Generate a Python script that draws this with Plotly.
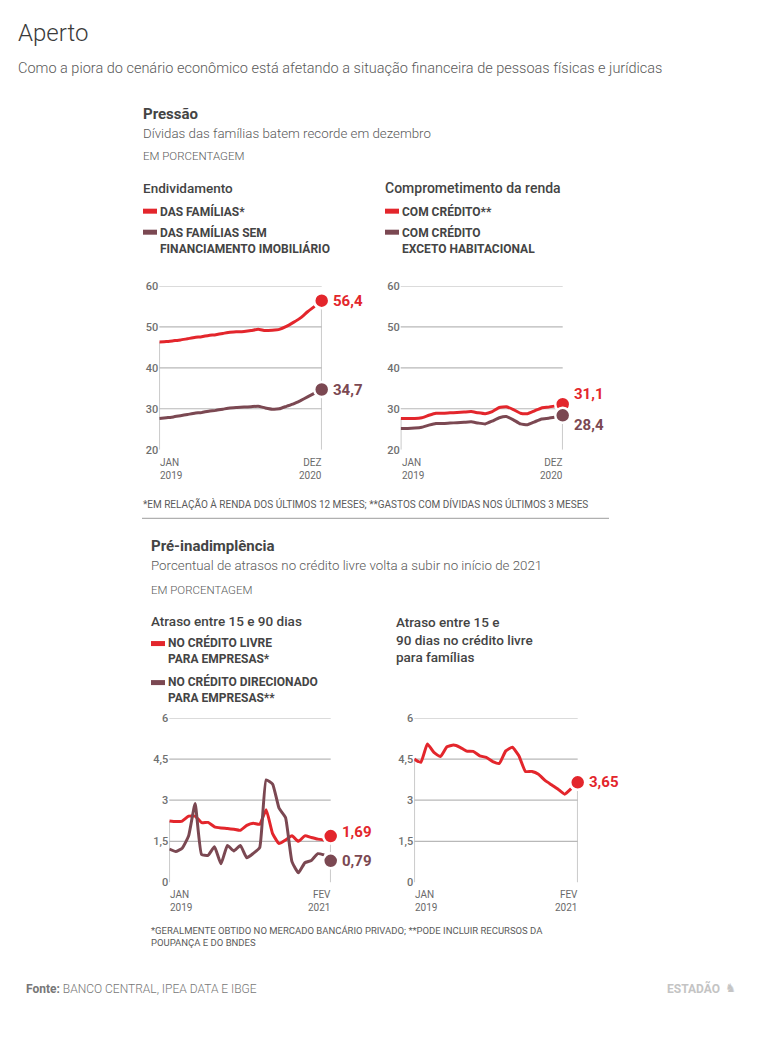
import plotly.graph_objects as go

# a foto da pagina desloca a figura: compensar (8px de margem em x, escala leve em y)
W, H = 750, 1038
OFF_X = 8
OFF_Y, SC_Y = 14.0, 0.9866
RED = "#e3262c"
BROWN = "#7b4852"
GRID = "#b8b8b8"
TXT = "#444444"
SOFT = "#5a5a5a"
FONT = "Roboto"

# --- dados ---
meses_2019_2020 = list(range(24))   # jan/2019 .. dez/2020
meses_2019_2021 = list(range(26))   # jan/2019 .. fev/2021

# endividamento
familias = [46.3, 46.4, 46.6, 46.8, 47.1, 47.4, 47.6, 47.9, 48.1, 48.4, 48.7, 48.8,
            48.9, 49.1, 49.4, 49.1, 49.2, 49.4, 50.1, 51.1, 52.2, 53.7, 55.0, 56.4]
familias_sem_imob = [27.6, 27.8, 28.0, 28.3, 28.6, 28.9, 29.1, 29.4, 29.6, 29.9, 30.2, 30.3,
                     30.4, 30.5, 30.6, 30.2, 29.9, 30.0, 30.6, 31.2, 32.0, 32.9, 33.8, 34.7]
# comprometimento da renda
com_credito = [27.6, 27.6, 27.6, 27.8, 28.4, 28.9, 28.9, 29.0, 29.1, 29.2, 29.3, 29.0,
               28.8, 29.3, 30.3, 30.5, 29.8, 28.9, 28.8, 29.5, 30.2, 30.4, 30.7, 31.1]
com_credito_exc_hab = [25.2, 25.2, 25.3, 25.5, 26.0, 26.4, 26.4, 26.5, 26.6, 26.7, 26.8, 26.5,
                       26.3, 27.0, 27.8, 28.1, 27.3, 26.3, 26.1, 26.8, 27.5, 27.7, 28.0, 28.4]
# pre-inadimplencia
livre_empresas = [2.24, 2.22, 2.24, 2.42, 2.42, 2.18, 2.19, 2.03, 1.99, 1.97, 1.94, 1.90, 2.08,
                  2.16, 2.12, 2.65, 1.78, 1.42, 1.55, 1.70, 1.50, 1.70, 1.64, 1.58, 1.55, 1.69]
direcionado_empresas = [1.22, 1.13, 1.25, 1.70, 2.88, 1.02, 0.99, 1.30, 0.68, 1.35, 1.15, 1.35, 0.90,
                        1.06, 1.27, 3.74, 3.59, 2.71, 2.37, 0.76, 0.35, 0.72, 0.80, 1.05, 1.00, 0.79]
livre_familias = [4.50, 4.38, 5.05, 4.74, 4.59, 4.95, 5.01, 4.93, 4.79, 4.78, 4.62, 4.56, 4.41,
                  4.34, 4.80, 4.93, 4.62, 4.05, 4.05, 3.95, 3.72, 3.56, 3.40, 3.22, 3.42, 3.65]

ticks_renda = [20, 30, 40, 50, 60]
ticks_atraso = [0, 1.5, 3, 4.5, 6]


def fmt(v, d):
    return f"{v:.{d}f}".replace(".", ",")


def fx(x):
    return (x - OFF_X) / W


def fy(y):
    return 1 - ((y - OFF_Y) / SC_Y) / H


fig = go.Figure()

panels = [
    dict(x0=159.3, x1=321.7, top=285.7, bot=449.3, months=meses_2019_2020, ticks=ticks_renda, dec=1,
         labs=("JAN<br>2019", "DEZ<br>2020"), laby=455,
         series=[(familias, RED, 0), (familias_sem_imob, BROWN, 0)]),
    dict(x0=400.7, x1=562.7, top=285.7, bot=449.3, months=meses_2019_2020, ticks=ticks_renda, dec=1,
         labs=("JAN<br>2019", "DEZ<br>2020"), laby=455,
         series=[(com_credito, RED, 10), (com_credito_exc_hab, BROWN, -10)]),
    dict(x0=169.3, x1=330.7, top=717.3, bot=881.7, months=meses_2019_2021, ticks=ticks_atraso, dec=2,
         labs=("JAN<br>2019", "FEV<br>2021"), laby=886,
         series=[(livre_empresas, RED, 4), (direcionado_empresas, BROWN, 0)]),
    dict(x0=414.3, x1=577.7, top=717.3, bot=881.7, months=meses_2019_2021, ticks=ticks_atraso, dec=2,
         labs=("JAN<br>2019", "FEV<br>2021"), laby=886,
         series=[(livre_familias, RED, 0)]),
]

for i, p in enumerate(panels, start=1):
    sfx = "" if i == 1 else str(i)
    xa, ya = "x" + sfx, "y" + sfx
    m = p["months"]
    fig.update_layout({
        "xaxis" + sfx: dict(domain=[fx(p["x0"]), fx(p["x1"])], range=[m[0], m[-1]], anchor=ya,
                            showgrid=False, zeroline=False, showline=False, showticklabels=False,
                            fixedrange=True),
        "yaxis" + sfx: dict(domain=[fy(p["bot"]), fy(p["top"])],
                            range=[p["ticks"][0], p["ticks"][-1]], anchor=xa,
                            tickvals=p["ticks"], ticktext=[fmt(t, 1).replace(",0", "") for t in p["ticks"]],
                            showgrid=False, zeroline=False, showline=False, ticks="",
                            tickfont=dict(family=FONT, size=11, color="#707070", weight=500),
                            fixedrange=True),
    })
    # gridlines (sem linha na base)
    for t in p["ticks"][1:]:
        fig.add_shape(type="line", xref=xa + " domain", yref=ya, x0=0, x1=1, y0=t, y1=t,
                      line=dict(color=GRID, width=1.2), layer="below")
    # linhas verticais no inicio e no fim
    first = max(s[0][0] for s in p["series"])
    last = max(s[0][-1] for s in p["series"])
    for xv, yv in ((m[0], first), (m[-1], last)):
        fig.add_shape(type="line", xref=xa, yref=ya, x0=xv, x1=xv, y0=p["ticks"][0], y1=yv,
                      line=dict(color=GRID, width=1.5), layer="below")
    for vals, col, ysh in p["series"]:
        fig.add_trace(go.Scatter(x=m[:-1], y=vals[:-1], mode="lines", xaxis=xa, yaxis=ya,
                                 line=dict(color=col, width=3, shape="spline", smoothing=0.4),
                                 cliponaxis=False, hoverinfo="skip", showlegend=False))
        fig.add_trace(go.Scatter(x=[m[-1]], y=[vals[-1]], mode="markers", xaxis=xa, yaxis=ya,
                                 marker=dict(color=col, size=15, line=dict(color="white", width=2.5)),
                                 cliponaxis=False, hoverinfo="skip", showlegend=False))
        fig.add_annotation(x=m[-1], y=vals[-1], xref=xa, yref=ya, text=fmt(vals[-1], p["dec"]),
                           showarrow=False, xanchor="left", yanchor="middle", xshift=9, yshift=ysh,
                           font=dict(family=FONT, size=15, color=col, weight=700))
    fig.add_annotation(x=m[0], y=fy(p["laby"]), xref=xa, yref="paper", text=p["labs"][0],
                       showarrow=False, xanchor="left", yanchor="top", align="left", xshift=-1,
                       font=dict(family=FONT, size=10, color="#6a6a6a"))
    fig.add_annotation(x=m[-1], y=fy(p["laby"]), xref=xa, yref="paper", text=p["labs"][1],
                       showarrow=False, xanchor="right", yanchor="top", align="right", xshift=2,
                       font=dict(family=FONT, size=10, color="#6a6a6a"))


def txt(x, y, text, size=12, color=TXT, weight=400, anchor="left", family=FONT):
    fig.add_annotation(x=fx(x), y=fy(y), xref="paper", yref="paper", text=text, showarrow=False,
                       xanchor=anchor, yanchor="middle", align=anchor,
                       font=dict(family=family, size=size, color=color, weight=weight))


def bar(x, y, col):
    fig.add_shape(type="rect", xref="paper", yref="paper", x0=fx(x), x1=fx(x + 14),
                  y0=fy(y + 2.5), y1=fy(y - 2.5), fillcolor=col, line_width=0)


# cabecalho
txt(16, 33, "Aperto", size=24, color="#3a3a3a", weight=300)
txt(16, 68, "Como a piora do cenário econômico está afetando a situação financeira de pessoas físicas e jurídicas",
    size=14.5, color=SOFT, weight=300)

# bloco 1
txt(141, 114, "Pressão", size=15, color=TXT, weight=700)
txt(141, 133, "Dívidas das famílias batem recorde em dezembro", size=13.3, color=SOFT, weight=300)
txt(141, 156, "EM PORCENTAGEM", size=11.5, color=SOFT, weight=300)
txt(141, 188, "Endividamento", size=13.5, color=TXT, weight=500)
bar(143, 211, RED)
txt(158, 211, "DAS FAMÍLIAS*", size=12, color=TXT, weight=700)
bar(143, 232, BROWN)
txt(158, 240, "DAS FAMÍLIAS SEM<br>FINANCIAMENTO IMOBILIÁRIO", size=12, color=TXT, weight=700)
txt(383, 188, "Comprometimento da renda", size=14, color=TXT, weight=500)
bar(385, 211, RED)
txt(400, 211, "COM CRÉDITO**", size=12, color=TXT, weight=700)
bar(385, 232, BROWN)
txt(400, 240, "COM CRÉDITO<br>EXCETO HABITACIONAL", size=12, color=TXT, weight=700)
txt(141, 504, "*EM RELAÇÃO À RENDA DOS ÚLTIMOS 12 MESES; **GASTOS COM DÍVIDAS NOS ÚLTIMOS 3 MESES",
    size=10, color=SOFT)
fig.add_shape(type="line", xref="paper", yref="paper", x0=fx(142), x1=fx(609), y0=fy(518),
              y1=fy(518), line=dict(color="#b0b0b0", width=1.2))

# bloco 2
txt(149, 546, "Pré-inadimplência", size=15, color=TXT, weight=700)
txt(149, 565, "Porcentual de atrasos no crédito livre volta a subir no início de 2021", size=13.3,
    color=SOFT, weight=300)
txt(149, 589, "EM PORCENTAGEM", size=11.5, color=SOFT, weight=300)
txt(149, 620, "Atraso entre 15 e 90 dias", size=13.5, color=TXT, weight=500)
bar(151, 643, RED)
txt(166, 650, "NO CRÉDITO LIVRE<br>PARA EMPRESAS*", size=12, color=TXT, weight=700)
bar(151, 682, BROWN)
txt(166, 689, "NO CRÉDITO DIRECIONADO<br>PARA EMPRESAS**", size=12, color=TXT, weight=700)
txt(394, 639, "Atraso entre 15 e<br>90 dias no crédito livre<br>para famílias", size=13.5, color=TXT,
    weight=500)
txt(149, 936, "*GERALMENTE OBTIDO NO MERCADO BANCÁRIO PRIVADO; **PODE INCLUIR RECURSOS DA<br>"
    "POUPANÇA E DO BNDES", size=9.5, color=SOFT)

# rodape
txt(24, 988, "<b>Fonte:</b> BANCO CENTRAL, IPEA DATA E IBGE", size=12, color="#777777", weight=300)
txt(722, 988, "ESTADÃO", size=12, color="#c4c4c4", weight=700, anchor="right")
txt(723, 987, "♞", size=12, color="#c4c4c4", family="DejaVu Sans")

fig.update_layout(width=W, height=H, margin=dict(l=0, r=0, t=0, b=0), autosize=False,
                  paper_bgcolor="white", plot_bgcolor="white",
                  font=dict(family=FONT), showlegend=False)

fig.write_html("out.html", config={"displayModeBar": False})
